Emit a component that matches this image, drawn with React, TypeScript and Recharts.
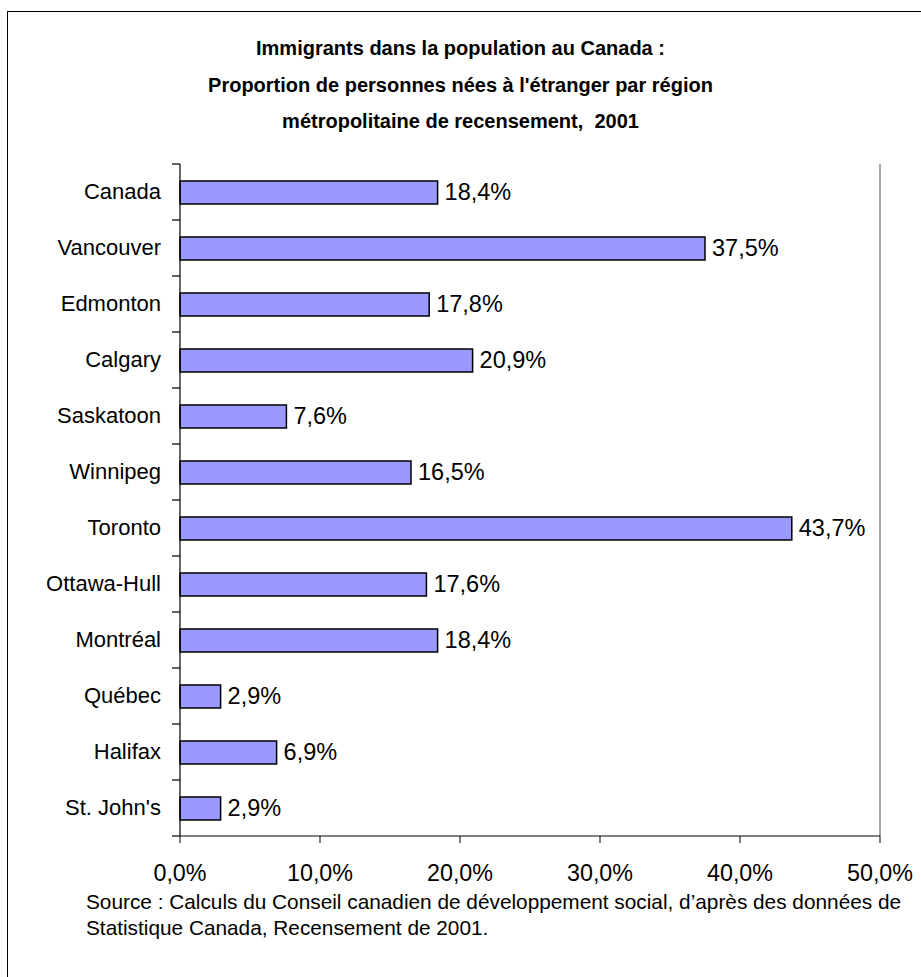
import React from "react";
import { BarChart, Bar, XAxis, YAxis, LabelList, ReferenceLine } from "recharts";

const categories = [
  "Canada",
  "Vancouver",
  "Edmonton",
  "Calgary",
  "Saskatoon",
  "Winnipeg",
  "Toronto",
  "Ottawa-Hull",
  "Montréal",
  "Québec",
  "Halifax",
  "St. John's",
];
const values = [18.4, 37.5, 17.8, 20.9, 7.6, 16.5, 43.7, 17.6, 18.4, 2.9, 6.9, 2.9];
const xTicks = [0, 10, 20, 30, 40, 50];
const titleLines = [
  "Immigrants dans la population au Canada :",
  "Proportion de personnes nées à l'étranger par région",
  "métropolitaine de recensement,  2001",
];
const sourceLines = [
  "Source : Calculs du Conseil canadien de développement social, d’après des données de",
  "Statistique Canada, Recensement de 2001.",
];

const data = categories.map((name, i) => ({ name, value: values[i] }));

const FONT = '"Liberation Sans", Arial, Helvetica, sans-serif';
const W = 921;
const H = 977;
const PLOT_LEFT = 180;
const PLOT_RIGHT = 880;
const PLOT_TOP = 164;
const PLOT_BOTTOM = 836;
const BAND = (PLOT_BOTTOM - PLOT_TOP) / categories.length;

const fmt = (v: number) => v.toFixed(1).replace(".", ",") + "%";

const YTick = (props: any) => {
  const { x, y, payload, index } = props;
  return (
    <g>
      <text x={x} y={y} dy="0.3em" textAnchor="end" fill="#000" fontSize={22} fontFamily={FONT}>
        {payload.value}
      </text>
      <line x1={PLOT_LEFT - 8} x2={PLOT_LEFT} y1={y - BAND / 2} y2={y - BAND / 2} stroke="#000" strokeWidth={1.2} />
      {index === categories.length - 1 && (
        <line x1={PLOT_LEFT - 8} x2={PLOT_LEFT} y1={y + BAND / 2} y2={y + BAND / 2} stroke="#000" strokeWidth={1.2} />
      )}
    </g>
  );
};

const BarLabel = (props: any) => {
  const { x, y, width, height, value } = props;
  const tx = Number(x) + Number(width) + 7;
  const ty = Number(y) + Number(height) / 2;
  return (
    <text x={tx} y={ty} dy="0.32em" textAnchor="start" fill="#000" fontSize={23.5} fontFamily={FONT}>
      {fmt(Number(value))}
    </text>
  );
};

export default function App() {
  return (
    <div
      style={{
        position: "absolute",
        left: 0,
        top: 0,
        width: W,
        height: H,
        overflow: "hidden",
        background: "#fff",
        fontFamily: FONT,
      }}
    >
      <div
        style={{
          position: "absolute",
          left: 7,
          top: 11,
          width: W + 20,
          height: H + 20,
          border: "1.5px solid #000",
          boxSizing: "border-box",
        }}
      />
      <div style={{ position: "absolute", left: 0, top: 0 }}>
        <BarChart
          width={W}
          height={H}
          data={data}
          layout="vertical"
          margin={{ top: PLOT_TOP, right: W - PLOT_RIGHT, bottom: 101, left: 0 }}
        >
          <XAxis
            type="number"
            dataKey="value"
            domain={[0, 50]}
            ticks={xTicks}
            tickFormatter={fmt}
            axisLine={{ stroke: "#000", strokeWidth: 1.2 }}
            tickLine={{ stroke: "#000" }}
            tickSize={7}
            tickMargin={21}
            height={40}
            tick={{ fill: "#000", fontSize: 23.3, fontFamily: FONT }}
            interval={0}
          />
          <XAxis
            xAxisId="top"
            type="number"
            orientation="top"
            domain={[0, 50]}
            height={0}
            tick={false}
            tickLine={false}
            axisLine={{ stroke: "#888", strokeWidth: 1.5 }}
          />
          <YAxis
            type="category"
            dataKey="name"
            width={PLOT_LEFT}
            tickLine={false}
            tickSize={8}
            tickMargin={11}
            axisLine={{ stroke: "#000", strokeWidth: 1.2 }}
            tick={<YTick />}
            interval={0}
          />
          <ReferenceLine x={50} stroke="#888" strokeWidth={1.5} />
          <Bar
            dataKey="value"
            fill="#9999FF"
            stroke="#000"
            strokeWidth={1.5}
            barSize={23}
            isAnimationActive={false}
          >
            <LabelList dataKey="value" content={<BarLabel />} />
          </Bar>
        </BarChart>
      </div>
      <div
        style={{
          position: "absolute",
          left: 0,
          width: W,
          top: 30,
          textAlign: "center",
          fontWeight: "bold",
          fontSize: 20,
          lineHeight: "36.5px",
          color: "#000",
          whiteSpace: "pre",
        }}
      >
        {titleLines.map((l, i) => (
          <div key={i}>{l}</div>
        ))}
      </div>
      <div
        style={{
          position: "absolute",
          left: 86,
          top: 889,
          fontSize: 20.8,
          lineHeight: "26px",
          color: "#000",
          whiteSpace: "nowrap",
        }}
      >
        {sourceLines.map((l, i) => (
          <div key={i}>{l}</div>
        ))}
      </div>
    </div>
  );
}
